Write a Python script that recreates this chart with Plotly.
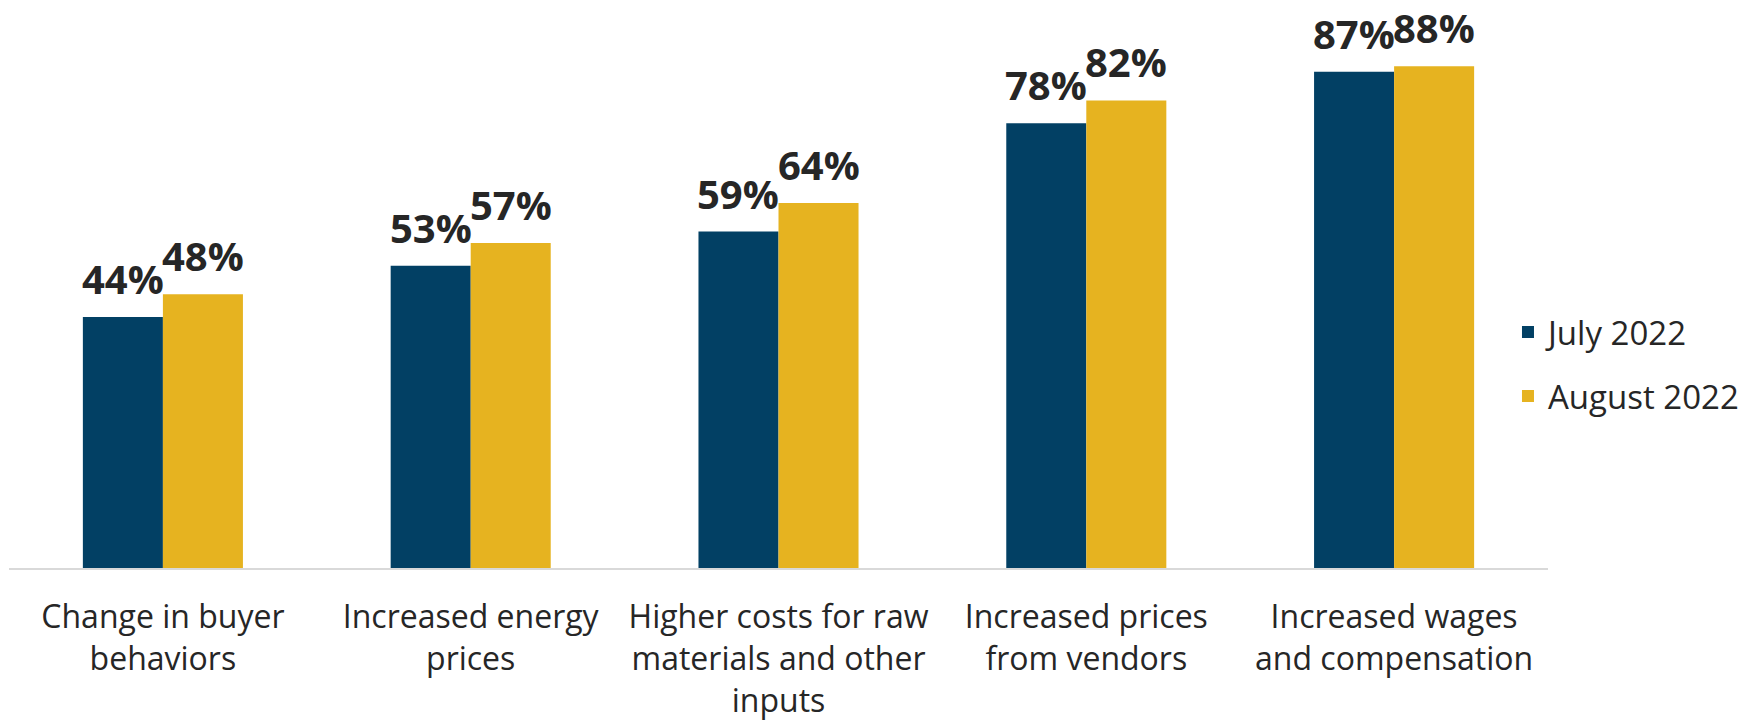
import plotly.graph_objects as go

categories = ["Change in buyer<br>behaviors", "Increased energy<br>prices",
              "Higher costs for raw<br>materials and other<br>inputs",
              "Increased prices<br>from vendors", "Increased wages<br>and compensation"]
july = [44, 53, 59, 78, 87]
august = [48, 57, 64, 82, 88]
series_names = ["July 2022", "August 2022"]
colors = ["#024064", "#E6B320"]

BARGAP = 0.48
FONT = "Open Sans"
TXT = "#262626"

fig = go.Figure()
for name, vals, col in zip(series_names, [july, august], colors):
    fig.add_trace(go.Bar(x=categories, y=vals, name=name, marker_color=col,
                         marker_line_width=0, legendgroup=name))

half = (1 - BARGAP) / 4
for k, vals in enumerate([july, august]):
    off = -half if k == 0 else half
    for i, v in enumerate(vals):
        fig.add_annotation(x=i + off, y=v, text=f"<b>{v}%</b>", showarrow=False,
                           yanchor="bottom", yshift=10, borderpad=0,
                           font=dict(family=FONT, size=40, color=TXT))

fig.update_layout(
    width=1754, height=726,
    barmode="group", bargap=BARGAP, bargroupgap=0,
    plot_bgcolor="white", paper_bgcolor="white",
    margin=dict(l=1, r=214, t=0, b=166),
    font=dict(family=FONT, color=TXT),
    legend=dict(x=0.974, xanchor="left", y=0.364, yanchor="middle",
                font=dict(family=FONT, size=33, color=TXT),
                tracegroupgap=18, bgcolor="rgba(0,0,0,0)"),
    xaxis=dict(showline=True, linecolor="#D9D9D9", linewidth=2,
               tickfont=dict(family=FONT, size=32, color=TXT),
               ticks="", ticklabelstandoff=20, automargin=False),
    yaxis=dict(range=[0, 98.2], showgrid=False, showticklabels=False,
               zeroline=False, showline=False),
)

fig.write_html("out.html")
